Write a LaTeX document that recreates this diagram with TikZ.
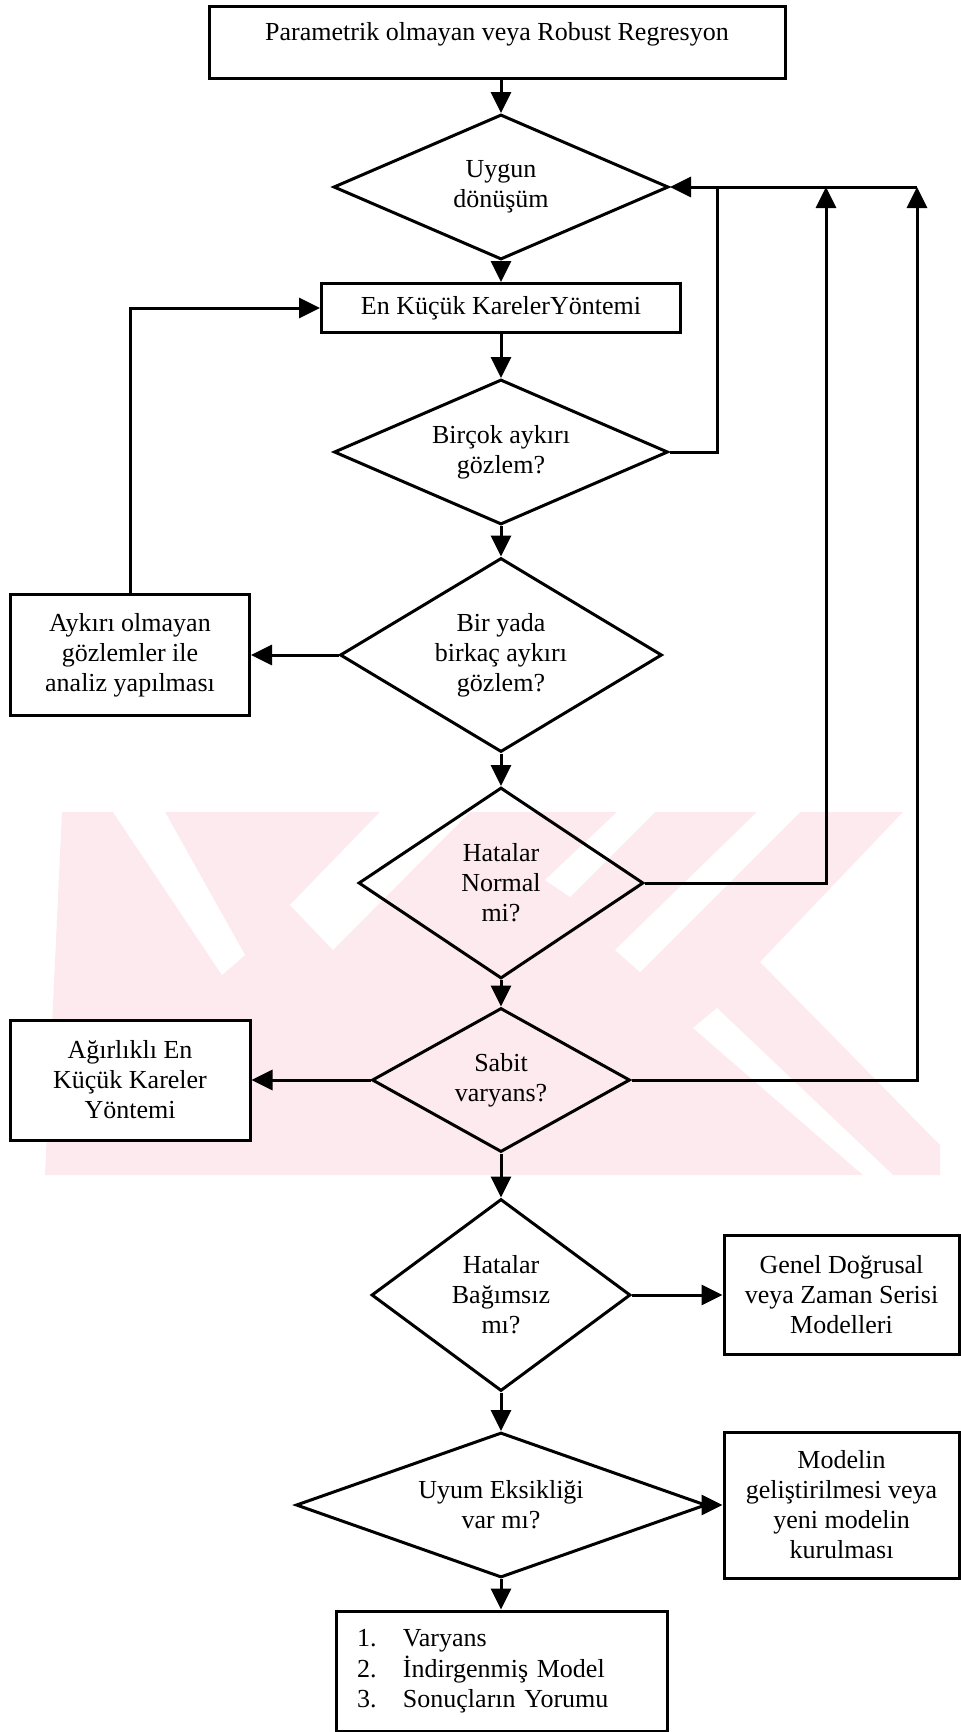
\documentclass[tikz,border=0pt]{standalone}
\usepackage{fontspec}
\setmainfont{Liberation Serif}
\usetikzlibrary{shapes.geometric,arrows.meta}
\definecolor{wm}{RGB}{253,234,238}
\begin{document}
\begin{tikzpicture}[x=1pt,y=-1pt,
  every node/.style={font=\fontsize{26}{30}\selectfont},
  ln/.style={line width=3pt},
  box/.style={draw, ln, fill=white, align=center, inner sep=0pt},
  dia/.style={draw, ln, diamond, align=center, inner sep=0pt},
  arr/.style={ln, -{Triangle[length=21pt,width=20pt]}}]
\useasboundingbox (0,0) rectangle (961,1732);
% watermark
\fill[wm] (62,812) -- (903,812) -- (760,962) -- (940,1145) -- (940,1175) -- (45,1175) -- cycle;
\fill[white] (113,812) -- (165,812) -- (245,955) -- (222,975) -- cycle;
\fill[white] (380,812) -- (470,812) -- (333,950) -- (290,905) -- cycle;
\fill[white] (617,812) -- (655,812) -- (570,897) -- (545,880) -- cycle;
\fill[white] (757,812) -- (800,812) -- (640,972) -- (615,950) -- cycle;
\fill[white] (693,1028) -- (717,1008) -- (893,1175) -- (863,1175) -- cycle;

% nodes
\node[box, minimum width=576, text height=34pt, text depth=38pt, anchor=north] (top) at (497,5) {Parametrik olmayan veya Robust Regresyon};
\node[dia, minimum width=335, minimum height=145, aspect=2.3] (d1) at (501,187) {Uygun\\dönüşüm};
\node[box, minimum width=359, minimum height=49] (b2) at (501,308) {En Küçük KarelerYöntemi};
\node[dia, minimum width=334, minimum height=145, aspect=2.3] (d2) at (501,452) {Birçok aykırı\\gözlem?};
\node[dia, minimum width=322, minimum height=194, aspect=1.66] (d3) at (501,655) {Bir yada\\birkaç aykırı\\gözlem?};
\node[box, minimum width=239, minimum height=121] (b3) at (130,655) {Aykırı olmayan\\gözlemler ile\\analiz yapılması};
\node[dia, minimum width=285, minimum height=191, aspect=1.49] (d4) at (501,883) {Hatalar\\Normal\\mi?};
\node[dia, minimum width=258, minimum height=144, aspect=1.79] (d5) at (501,1080) {Sabit\\varyans?};
\node[box, minimum width=240, minimum height=120] (b4) at (130,1080) {Ağırlıklı En\\Küçük Kareler\\Yöntemi};
\node[dia, minimum width=259, minimum height=192, aspect=1.35] (d6) at (501,1295) {Hatalar\\Bağımsız\\mı?};
\node[box, minimum width=235, minimum height=119] (b5) at (841.5,1295) {Genel Doğrusal\\veya Zaman Serisi\\Modelleri};
\node[dia, minimum width=410, minimum height=145, aspect=2.8] (d7) at (501,1505) {Uyum Eksikliği\\var mı?};
\node[box, minimum width=235, minimum height=146] (b6) at (841.5,1505) {Modelin\\geliştirilmesi veya\\yeni modelin\\kurulması};
\node[box, minimum width=331, minimum height=120, text width=289pt, align=left] (b7) at (501.5,1671)
  {\begin{tabular}{@{}p{46pt}@{}l@{}}1. & Varyans\\2. & İndirgenmiş Model\\3. & Sonuçların Yorumu\end{tabular}};

\coordinate (j1) at (717,187);
\coordinate (j2) at (826,187);
\coordinate (j3) at (917,187);

% connectors
\draw[arr] (d1.north |- top.south) -- (d1.north);
\draw[arr] (d1.south) -- (b2.north);
\draw[arr] (b2.south) -- (d2.north);
\draw[arr] (d2.south) -- (d3.north);
\draw[arr] (d3.west) -- (b3.east);
\draw[arr] (b3.north) |- (b2.west);
\draw[arr] (d2.east) -| (j1) -- (d1.east);
\draw[ln] (j1) -- (j3);
\draw[arr] (d3.south) -- (d4.north);
\draw[arr] (d4.east) -| (j2);
\draw[arr] (d4.south) -- (d5.north);
\draw[arr] (d5.west) -- (b4.east);
\draw[arr] (d5.east) -| (j3);
\draw[arr] (d5.south) -- (d6.north);
\draw[arr] (d6.east) -- (b5.west);
\draw[arr] (d6.south) -- (d7.north);
\draw[arr] (d7.east) -- (b6.west);
\draw[arr] (d7.south) -- (d7.south |- b7.north);
\end{tikzpicture}
\end{document}
